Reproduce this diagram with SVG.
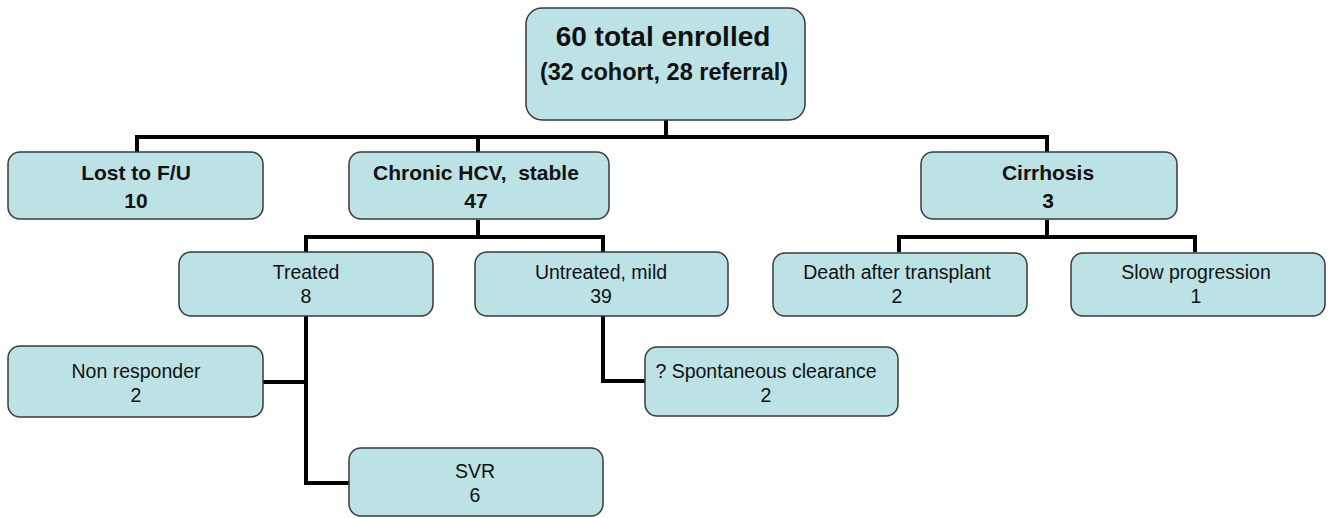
<svg xmlns="http://www.w3.org/2000/svg" width="1331" height="518" viewBox="0 0 1331 518">
<style>
.box{fill:#bce2e5;stroke:#3a3a3a;stroke-width:1.5}
.t{font-family:"Liberation Sans",Arial,sans-serif;text-anchor:middle;fill:#111}
.b{font-weight:bold;font-size:21px}
.r{font-size:19.5px}
.c{fill:none;stroke:#000;stroke-width:4;stroke-linejoin:miter}
</style>
<rect width="1331" height="518" fill="#fff"/>
<g id="connectors">
<path class="c" d="M666 120V137M137 152V137H1047V152M478 137V152"/>
<path class="c" d="M478 220V237M306 252V237H603V252"/>
<path class="c" d="M1047 220V237M899 252V237H1195V252"/>
<path class="c" d="M306 316V483H349M263 382H306"/>
<path class="c" d="M603 316V381H645"/>
</g>
<g id="n-total">
<rect class="box" x="526" y="8" width="279" height="112" rx="16"/>
<text class="t" x="663" y="46" style="font-weight:bold;font-size:28px">60 total enrolled</text>
<text class="t" x="664" y="80" style="font-weight:bold;font-size:23.5px">(32 cohort, 28 referral)</text>
</g>
<g id="n-lost">
<rect class="box" x="8" y="152" width="255" height="67" rx="12"/>
<text class="t b" x="136" y="180">Lost to F/U</text>
<text class="t b" x="136" y="208">10</text>
</g>
<g id="n-chronic">
<rect class="box" x="349" y="152" width="260" height="67" rx="12"/>
<text class="t b" x="476" y="180" xml:space="preserve">Chronic HCV,  stable</text>
<text class="t b" x="476" y="208">47</text>
</g>
<g id="n-cirrhosis">
<rect class="box" x="921" y="152" width="256" height="67" rx="12"/>
<text class="t b" x="1048" y="180">Cirrhosis</text>
<text class="t b" x="1048" y="208">3</text>
</g>
<g id="n-treated">
<rect class="box" x="179" y="252" width="254" height="64" rx="12"/>
<text class="t r" x="306" y="279">Treated</text>
<text class="t r" x="306" y="303">8</text>
</g>
<g id="n-untreated">
<rect class="box" x="475" y="252" width="253" height="64" rx="12"/>
<text class="t r" x="601" y="279">Untreated, mild</text>
<text class="t r" x="601" y="303">39</text>
</g>
<g id="n-death">
<rect class="box" x="773" y="253" width="254" height="63" rx="12"/>
<text class="t r" x="897" y="279">Death after transplant</text>
<text class="t r" x="897" y="303">2</text>
</g>
<g id="n-slow">
<rect class="box" x="1071" y="253" width="254" height="63" rx="12"/>
<text class="t r" x="1196" y="279">Slow progression</text>
<text class="t r" x="1196" y="303">1</text>
</g>
<g id="n-nonresp">
<rect class="box" x="8" y="346" width="255" height="71" rx="12"/>
<text class="t r" x="136" y="378">Non responder</text>
<text class="t r" x="136" y="402">2</text>
</g>
<g id="n-spont">
<rect class="box" x="645" y="347" width="253" height="69" rx="12"/>
<text class="t r" x="766" y="378">? Spontaneous clearance</text>
<text class="t r" x="766" y="402">2</text>
</g>
<g id="n-svr">
<rect class="box" x="349" y="448" width="254" height="68" rx="12"/>
<text class="t r" x="475" y="478">SVR</text>
<text class="t r" x="475" y="502">6</text>
</g>
</svg>
